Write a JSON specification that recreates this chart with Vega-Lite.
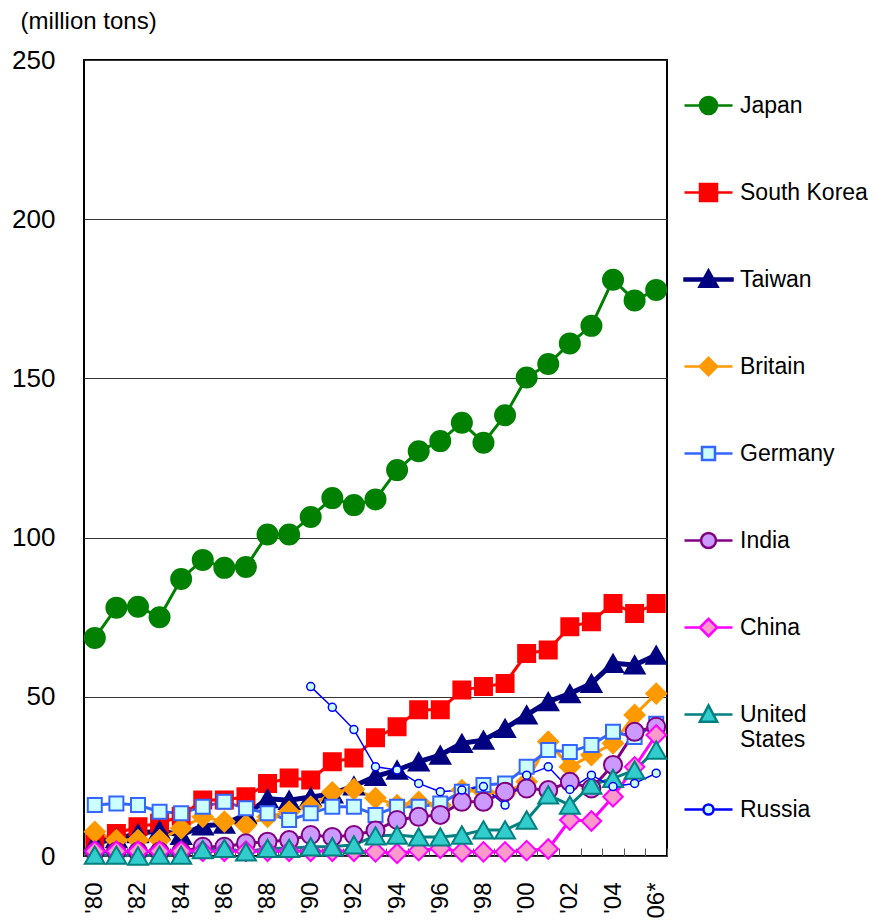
{
  "$schema": "https://vega.github.io/schema/vega-lite/v6.json",
  "width": 583,
  "height": 796,
  "autosize": {"type": "none"},
  "padding": {"left": 84, "top": 60, "right": 215, "bottom": 64},
  "config": {
    "font": "Liberation Sans",
    "view": {"stroke": "#000000", "strokeWidth": 2}
  },
  "title": {
    "text": "(million tons)",
    "anchor": "start",
    "frame": "bounds",
    "fontSize": 24,
    "fontWeight": "normal",
    "color": "#000000",
    "offset": 13,
    "dx": 9
  },
  "data": {
    "values": [
      {"country": "Japan", "year": "'80", "value": 68.5},
      {"country": "Japan", "year": "'81", "value": 78},
      {"country": "Japan", "year": "'82", "value": 78.3},
      {"country": "Japan", "year": "'83", "value": 75},
      {"country": "Japan", "year": "'84", "value": 87},
      {"country": "Japan", "year": "'85", "value": 93},
      {"country": "Japan", "year": "'86", "value": 90.5},
      {"country": "Japan", "year": "'87", "value": 90.8},
      {"country": "Japan", "year": "'88", "value": 101},
      {"country": "Japan", "year": "'89", "value": 101},
      {"country": "Japan", "year": "'90", "value": 106.5},
      {"country": "Japan", "year": "'91", "value": 112.4},
      {"country": "Japan", "year": "'92", "value": 110.2},
      {"country": "Japan", "year": "'93", "value": 112},
      {"country": "Japan", "year": "'94", "value": 121.2},
      {"country": "Japan", "year": "'95", "value": 127.1},
      {"country": "Japan", "year": "'96", "value": 130.3},
      {"country": "Japan", "year": "'97", "value": 136.1},
      {"country": "Japan", "year": "'98", "value": 129.8},
      {"country": "Japan", "year": "'99", "value": 138.4},
      {"country": "Japan", "year": "'00", "value": 150.3},
      {"country": "Japan", "year": "'01", "value": 154.5},
      {"country": "Japan", "year": "'02", "value": 161},
      {"country": "Japan", "year": "'03", "value": 166.5},
      {"country": "Japan", "year": "'04", "value": 181},
      {"country": "Japan", "year": "'05", "value": 174.5},
      {"country": "Japan", "year": "'06*", "value": 177.8},
      {"country": "South Korea", "year": "'80", "value": 4.5},
      {"country": "South Korea", "year": "'81", "value": 7.1},
      {"country": "South Korea", "year": "'82", "value": 9.2},
      {"country": "South Korea", "year": "'83", "value": 10.3},
      {"country": "South Korea", "year": "'84", "value": 12.5},
      {"country": "South Korea", "year": "'85", "value": 17.6},
      {"country": "South Korea", "year": "'86", "value": 17.6},
      {"country": "South Korea", "year": "'87", "value": 18.6},
      {"country": "South Korea", "year": "'88", "value": 22.8},
      {"country": "South Korea", "year": "'89", "value": 24.5},
      {"country": "South Korea", "year": "'90", "value": 23.9},
      {"country": "South Korea", "year": "'91", "value": 29.6},
      {"country": "South Korea", "year": "'92", "value": 30.8},
      {"country": "South Korea", "year": "'93", "value": 37.1},
      {"country": "South Korea", "year": "'94", "value": 40.6},
      {"country": "South Korea", "year": "'95", "value": 45.9},
      {"country": "South Korea", "year": "'96", "value": 45.9},
      {"country": "South Korea", "year": "'97", "value": 52.1},
      {"country": "South Korea", "year": "'98", "value": 53.2},
      {"country": "South Korea", "year": "'99", "value": 54.2},
      {"country": "South Korea", "year": "'00", "value": 63.6},
      {"country": "South Korea", "year": "'01", "value": 64.7},
      {"country": "South Korea", "year": "'02", "value": 72},
      {"country": "South Korea", "year": "'03", "value": 73.6},
      {"country": "South Korea", "year": "'04", "value": 79.3},
      {"country": "South Korea", "year": "'05", "value": 76.2},
      {"country": "South Korea", "year": "'06*", "value": 79.3},
      {"country": "Taiwan", "year": "'80", "value": 4},
      {"country": "Taiwan", "year": "'81", "value": 5.5},
      {"country": "Taiwan", "year": "'82", "value": 7},
      {"country": "Taiwan", "year": "'83", "value": 8},
      {"country": "Taiwan", "year": "'84", "value": 6.5},
      {"country": "Taiwan", "year": "'85", "value": 9.5},
      {"country": "Taiwan", "year": "'86", "value": 10},
      {"country": "Taiwan", "year": "'87", "value": 13},
      {"country": "Taiwan", "year": "'88", "value": 18},
      {"country": "Taiwan", "year": "'89", "value": 17.5},
      {"country": "Taiwan", "year": "'90", "value": 18.5},
      {"country": "Taiwan", "year": "'91", "value": 19.5},
      {"country": "Taiwan", "year": "'92", "value": 22},
      {"country": "Taiwan", "year": "'93", "value": 25},
      {"country": "Taiwan", "year": "'94", "value": 27},
      {"country": "Taiwan", "year": "'95", "value": 29.6},
      {"country": "Taiwan", "year": "'96", "value": 31.7},
      {"country": "Taiwan", "year": "'97", "value": 35.4},
      {"country": "Taiwan", "year": "'98", "value": 36.4},
      {"country": "Taiwan", "year": "'99", "value": 40.1},
      {"country": "Taiwan", "year": "'00", "value": 44.3},
      {"country": "Taiwan", "year": "'01", "value": 48.5},
      {"country": "Taiwan", "year": "'02", "value": 51},
      {"country": "Taiwan", "year": "'03", "value": 54.2},
      {"country": "Taiwan", "year": "'04", "value": 60.5},
      {"country": "Taiwan", "year": "'05", "value": 60},
      {"country": "Taiwan", "year": "'06*", "value": 63.1},
      {"country": "Britain", "year": "'80", "value": 7.6},
      {"country": "Britain", "year": "'81", "value": 5},
      {"country": "Britain", "year": "'82", "value": 5},
      {"country": "Britain", "year": "'83", "value": 5},
      {"country": "Britain", "year": "'84", "value": 8.7},
      {"country": "Britain", "year": "'85", "value": 12.3},
      {"country": "Britain", "year": "'86", "value": 10.8},
      {"country": "Britain", "year": "'87", "value": 9.7},
      {"country": "Britain", "year": "'88", "value": 12.3},
      {"country": "Britain", "year": "'89", "value": 13.9},
      {"country": "Britain", "year": "'90", "value": 15.5},
      {"country": "Britain", "year": "'91", "value": 20},
      {"country": "Britain", "year": "'92", "value": 21},
      {"country": "Britain", "year": "'93", "value": 18.2},
      {"country": "Britain", "year": "'94", "value": 16},
      {"country": "Britain", "year": "'95", "value": 17},
      {"country": "Britain", "year": "'96", "value": 16},
      {"country": "Britain", "year": "'97", "value": 20.7},
      {"country": "Britain", "year": "'98", "value": 20.2},
      {"country": "Britain", "year": "'99", "value": 19.7},
      {"country": "Britain", "year": "'00", "value": 23.3},
      {"country": "Britain", "year": "'01", "value": 35.9},
      {"country": "Britain", "year": "'02", "value": 28},
      {"country": "Britain", "year": "'03", "value": 31.7},
      {"country": "Britain", "year": "'04", "value": 35.4},
      {"country": "Britain", "year": "'05", "value": 44.3},
      {"country": "Britain", "year": "'06*", "value": 51},
      {"country": "Germany", "year": "'80", "value": 16},
      {"country": "Germany", "year": "'81", "value": 16.5},
      {"country": "Germany", "year": "'82", "value": 16},
      {"country": "Germany", "year": "'83", "value": 13.9},
      {"country": "Germany", "year": "'84", "value": 13.4},
      {"country": "Germany", "year": "'85", "value": 15.5},
      {"country": "Germany", "year": "'86", "value": 17},
      {"country": "Germany", "year": "'87", "value": 15},
      {"country": "Germany", "year": "'88", "value": 13.4},
      {"country": "Germany", "year": "'89", "value": 11.3},
      {"country": "Germany", "year": "'90", "value": 13.4},
      {"country": "Germany", "year": "'91", "value": 15.5},
      {"country": "Germany", "year": "'92", "value": 15.5},
      {"country": "Germany", "year": "'93", "value": 12.9},
      {"country": "Germany", "year": "'94", "value": 15.5},
      {"country": "Germany", "year": "'95", "value": 15.5},
      {"country": "Germany", "year": "'96", "value": 16.5},
      {"country": "Germany", "year": "'97", "value": 20.2},
      {"country": "Germany", "year": "'98", "value": 22.3},
      {"country": "Germany", "year": "'99", "value": 22.8},
      {"country": "Germany", "year": "'00", "value": 28},
      {"country": "Germany", "year": "'01", "value": 33.3},
      {"country": "Germany", "year": "'02", "value": 32.7},
      {"country": "Germany", "year": "'03", "value": 34.9},
      {"country": "Germany", "year": "'04", "value": 39},
      {"country": "Germany", "year": "'05", "value": 37.4},
      {"country": "Germany", "year": "'06*", "value": 41.5},
      {"country": "India", "year": "'80", "value": 1.3},
      {"country": "India", "year": "'81", "value": 1.3},
      {"country": "India", "year": "'82", "value": 1.3},
      {"country": "India", "year": "'83", "value": 1.3},
      {"country": "India", "year": "'84", "value": 1.3},
      {"country": "India", "year": "'85", "value": 2.9},
      {"country": "India", "year": "'86", "value": 2.9},
      {"country": "India", "year": "'87", "value": 4},
      {"country": "India", "year": "'88", "value": 4.5},
      {"country": "India", "year": "'89", "value": 5},
      {"country": "India", "year": "'90", "value": 6.6},
      {"country": "India", "year": "'91", "value": 6},
      {"country": "India", "year": "'92", "value": 6.6},
      {"country": "India", "year": "'93", "value": 8},
      {"country": "India", "year": "'94", "value": 11.3},
      {"country": "India", "year": "'95", "value": 12.3},
      {"country": "India", "year": "'96", "value": 12.9},
      {"country": "India", "year": "'97", "value": 17},
      {"country": "India", "year": "'98", "value": 17},
      {"country": "India", "year": "'99", "value": 20.2},
      {"country": "India", "year": "'00", "value": 21.2},
      {"country": "India", "year": "'01", "value": 20.7},
      {"country": "India", "year": "'02", "value": 23.3},
      {"country": "India", "year": "'03", "value": 21.2},
      {"country": "India", "year": "'04", "value": 28.6},
      {"country": "India", "year": "'05", "value": 39},
      {"country": "India", "year": "'06*", "value": 40.6},
      {"country": "China", "year": "'80", "value": 1.5},
      {"country": "China", "year": "'81", "value": 1.5},
      {"country": "China", "year": "'82", "value": 1.5},
      {"country": "China", "year": "'83", "value": 1.5},
      {"country": "China", "year": "'84", "value": 1.5},
      {"country": "China", "year": "'85", "value": 1.5},
      {"country": "China", "year": "'86", "value": 1.5},
      {"country": "China", "year": "'87", "value": 1.5},
      {"country": "China", "year": "'88", "value": 1.5},
      {"country": "China", "year": "'89", "value": 1.5},
      {"country": "China", "year": "'90", "value": 1.5},
      {"country": "China", "year": "'91", "value": 1.5},
      {"country": "China", "year": "'92", "value": 1.5},
      {"country": "China", "year": "'93", "value": 1.3},
      {"country": "China", "year": "'94", "value": 0.8},
      {"country": "China", "year": "'95", "value": 1.7},
      {"country": "China", "year": "'96", "value": 2.4},
      {"country": "China", "year": "'97", "value": 1.3},
      {"country": "China", "year": "'98", "value": 1.3},
      {"country": "China", "year": "'99", "value": 1.3},
      {"country": "China", "year": "'00", "value": 1.7},
      {"country": "China", "year": "'01", "value": 2.2},
      {"country": "China", "year": "'02", "value": 11.3},
      {"country": "China", "year": "'03", "value": 11},
      {"country": "China", "year": "'04", "value": 18.6},
      {"country": "China", "year": "'05", "value": 28},
      {"country": "China", "year": "'06*", "value": 38},
      {"country": "United States", "year": "'80", "value": 0.3},
      {"country": "United States", "year": "'81", "value": 0.3},
      {"country": "United States", "year": "'82", "value": 0},
      {"country": "United States", "year": "'83", "value": 0.3},
      {"country": "United States", "year": "'84", "value": 0.3},
      {"country": "United States", "year": "'85", "value": 2},
      {"country": "United States", "year": "'86", "value": 2.4},
      {"country": "United States", "year": "'87", "value": 1.3},
      {"country": "United States", "year": "'88", "value": 2.4},
      {"country": "United States", "year": "'89", "value": 2.4},
      {"country": "United States", "year": "'90", "value": 2.9},
      {"country": "United States", "year": "'91", "value": 2.9},
      {"country": "United States", "year": "'92", "value": 3.5},
      {"country": "United States", "year": "'93", "value": 6.3},
      {"country": "United States", "year": "'94", "value": 6.6},
      {"country": "United States", "year": "'95", "value": 6},
      {"country": "United States", "year": "'96", "value": 6},
      {"country": "United States", "year": "'97", "value": 6.6},
      {"country": "United States", "year": "'98", "value": 8.2},
      {"country": "United States", "year": "'99", "value": 8.2},
      {"country": "United States", "year": "'00", "value": 11.3},
      {"country": "United States", "year": "'01", "value": 19.2},
      {"country": "United States", "year": "'02", "value": 16},
      {"country": "United States", "year": "'03", "value": 22.3},
      {"country": "United States", "year": "'04", "value": 24.4},
      {"country": "United States", "year": "'05", "value": 27},
      {"country": "United States", "year": "'06*", "value": 33.3},
      {"country": "Russia", "year": "'90", "value": 53.2},
      {"country": "Russia", "year": "'91", "value": 46.7},
      {"country": "Russia", "year": "'92", "value": 39.7},
      {"country": "Russia", "year": "'93", "value": 28},
      {"country": "Russia", "year": "'94", "value": 27},
      {"country": "Russia", "year": "'95", "value": 22.8},
      {"country": "Russia", "year": "'96", "value": 20.2},
      {"country": "Russia", "year": "'97", "value": 20.7},
      {"country": "Russia", "year": "'98", "value": 21.8},
      {"country": "Russia", "year": "'99", "value": 16},
      {"country": "Russia", "year": "'00", "value": 25.4},
      {"country": "Russia", "year": "'01", "value": 28},
      {"country": "Russia", "year": "'02", "value": 20.9},
      {"country": "Russia", "year": "'03", "value": 25.4},
      {"country": "Russia", "year": "'04", "value": 21.8},
      {"country": "Russia", "year": "'05", "value": 22.8},
      {"country": "Russia", "year": "'06*", "value": 26}
    ]
  },
  "encoding": {
    "x": {
      "field": "year",
      "type": "nominal",
      "sort": null,
      "scale": {
        "type": "band",
        "paddingInner": 0,
        "paddingOuter": 0,
        "domain": ["'80","'81","'82","'83","'84","'85","'86","'87","'88","'89","'90","'91","'92","'93","'94","'95","'96","'97","'98","'99","'00","'01","'02","'03","'04","'05","'06*"]
      },
      "axis": {
        "title": null,
        "domain": false,
        "grid": false,
        "ticks": true,
        "tickBand": "extent",
        "tickSize": -8,
        "tickColor": "#555555",
        "tickWidth": 1,
        "labelAngle": 270,
        "labelAlign": "right",
        "labelBaseline": "middle",
        "labelFontSize": 24,
        "labelColor": "#000000",
        "labelPadding": 34,
        "labelOverlap": false,
        "labelExpr": "toNumber(substring(datum.value, 1, 3)) % 2 == 0 ? datum.value : ''"
      }
    },
    "y": {
      "field": "value",
      "type": "quantitative",
      "scale": {"domain": [0, 250], "nice": false, "zero": true},
      "axis": {
        "title": null,
        "values": [0, 50, 100, 150, 200, 250],
        "domain": false,
        "ticks": false,
        "grid": true,
        "gridColor": "#333333",
        "gridWidth": 1,
        "labelFontSize": 26,
        "labelColor": "#000000",
        "labelPadding": 29
      }
    }
  },
  "layer": [
    {
      "mark": {"type": "line", "strokeJoin": "round"},
      "encoding": {
        "color": {
          "field": "country",
          "type": "nominal",
          "legend": null,
          "scale": {
            "domain": ["Russia","United States","China","India","Germany","Britain","Taiwan","South Korea","Japan"],
            "range": ["#0000FF","#008080","#FF00FF","#800080","#3366FF","#FF9900","#000080","#FF0000","#008000"]
          }
        },
        "strokeWidth": {
          "condition": [
            {"test": "datum.country == 'Taiwan'", "value": 5},
            {"test": "datum.country == 'Russia'", "value": 1.5}
          ],
          "value": 3
        }
      }
    },
    {
      "mark": {"type": "point", "filled": true, "opacity": 1},
      "encoding": {
        "shape": {
          "condition": [
            {"test": "datum.country == 'South Korea' || datum.country == 'Germany'", "value": "square"},
            {"test": "datum.country == 'Taiwan' || datum.country == 'United States'", "value": "triangle-up"},
            {"test": "datum.country == 'Britain' || datum.country == 'China'", "value": "diamond"}
          ],
          "value": "circle"
        },
        "fill": {
          "field": "country",
          "type": "nominal",
          "scale": {
            "domain": ["Japan","South Korea","Taiwan","Britain","Germany","India","China","United States","Russia"],
            "range": ["#008000","#FF0000","#000080","#FF9900","#CCFFFF","#CC99FF","#FF99CC","#33CCCC","#CCFFFF"]
          },
          "legend": {
            "title": null,
            "orient": "right",
            "offset": -4,
            "padding": 20,
            "symbolSize": 2304,
            "symbolStrokeWidth": 2.5,
            "symbolOpacity": 1,
            "rowPadding": 28,
            "labelOffset": 6,
            "labelFontSize": 23,
            "labelColor": "#000000",
            "labelLimit": 200,
            "labelExpr": "datum.label == 'United States' ? ['United', 'States'] : datum.label"
          }
        },
        "stroke": {
          "field": "country",
          "type": "nominal",
          "scale": {
            "domain": ["Japan","South Korea","Taiwan","Britain","Germany","India","China","United States","Russia"],
            "range": ["#008000","#FF0000","#000080","#FF9900","#3366FF","#800080","#FF00FF","#008080","#0000FF"]
          }
        },
        "size": {
          "condition": [
            {"test": "datum.country == 'Germany'", "value": 196},
            {"test": "datum.country == 'India'", "value": 324},
            {"test": "datum.country == 'South Korea'", "value": 289},
            {"test": "datum.country == 'China'", "value": 380},
            {"test": "datum.country == 'Russia'", "value": 64}
          ],
          "value": 400
        },
        "strokeWidth": {
          "condition": {"test": "datum.country == 'Russia'", "value": 1.5},
          "value": 2
        }
      }
    },
    {
      "mark": {"type": "point", "opacity": 0},
      "encoding": {
        "shape": {
          "field": "country",
          "type": "nominal",
          "scale": {
            "domain": ["Japan","South Korea","Taiwan","Britain","Germany","India","China","United States","Russia"],
            "range": [
              "M0,-1M0,1M-1,0H-0.354M0.354,0H1M0.354,0A0.354,0.354 0 1 1 -0.354,0A0.354,0.354 0 1 1 0.354,0Z",
              "M0,-1M0,1M-1,0H-0.354M0.354,0H1M-0.354,-0.354H0.354V0.354H-0.354Z",
              "M0,-1M0,1M-1,-0.04H1V0.04H-1ZM0,-0.38L0.38,0.3L-0.38,0.3Z",
              "M0,-1M0,1M-1,0H-0.36M0.36,0H1M0,-0.36L0.36,0L0,0.36L-0.36,0Z",
              "M0,-1M0,1M-1,0H-0.27M0.27,0H1M-0.27,-0.27H0.27V0.27H-0.27Z",
              "M0,-1M0,1M-1,0H-0.31M0.31,0H1M0.31,0A0.31,0.31 0 1 1 -0.31,0A0.31,0.31 0 1 1 0.31,0Z",
              "M0,-1M0,1M-1,0H-0.36M0.36,0H1M0,-0.36L0.36,0L0,0.36L-0.36,0Z",
              "M0,-1M0,1M-1,0H-0.2M0.2,0H1M0,-0.38L0.36,0.3L-0.36,0.3Z",
              "M0,-1M0,1M-1,0H-0.21M0.21,0H1M0.21,0A0.21,0.21 0 1 1 -0.21,0A0.21,0.21 0 1 1 0.21,0Z"
            ]
          }
        }
      }
    }
  ]
}
